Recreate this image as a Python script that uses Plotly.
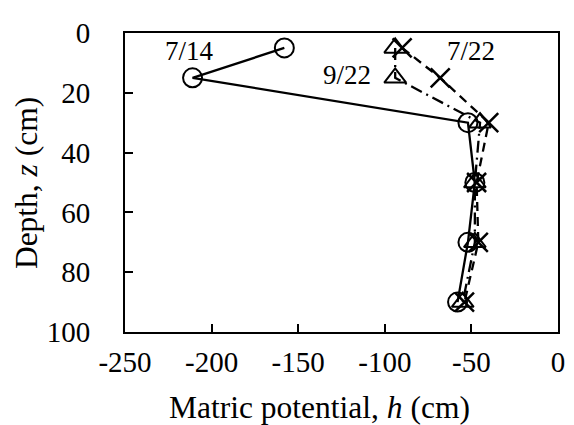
import plotly.graph_objects as go

depth = [5, 15, 30, 50, 70, 90]
h_0714 = [-158, -211, -52, -48, -52, -58]
h_0722 = [-90, -68, -40, -47, -46, -54]
h_0922 = [-94, -94, -45, -48, -48, -55]

x_ticks = [-250, -200, -150, -100, -50, 0]
y_ticks = [0, 20, 40, 60, 80, 100]

labels = ["7/14", "7/22", "9/22"]
label_x = [-213, -50, -122]
label_y = [6, 6, 14]

FONT = "Liberation Serif"
FS_TICK = 29
FS_TITLE = 31.5
FS_ANN = 27

fig = go.Figure()
fig.add_trace(go.Scatter(x=h_0714, y=depth, mode="lines+markers",
                         line=dict(color="black", width=2.3),
                         marker=dict(symbol="circle-open", size=19, color="black",
                                     line=dict(width=2)), name="7/14"))
fig.add_trace(go.Scatter(x=h_0722, y=depth, mode="lines+markers",
                         line=dict(color="black", width=2.3, dash="9px,6px"),
                         marker=dict(symbol="x-thin-open", size=19, color="black",
                                     line=dict(width=2.5)), name="7/22"))
fig.add_trace(go.Scatter(x=h_0922, y=depth, mode="lines+markers",
                         line=dict(color="black", width=2.3, dash="12px,5px,2px,5px"),
                         marker=dict(symbol="triangle-up-open", size=19, color="black",
                                     line=dict(width=2)), name="9/22"))

for t, x, y in zip(labels, label_x, label_y):
    fig.add_annotation(x=x, y=y, text=t, showarrow=False,
                       font=dict(family=FONT, size=FS_ANN, color="black"))

# axis titles as annotations (x title sits slightly left of centre, as in the original)
fig.add_annotation(xref="paper", yref="paper", x=0.45, y=-0.252,
                   xanchor="center", yanchor="middle", showarrow=False,
                   text="Matric potential, <i>h</i> (cm)",
                   font=dict(family=FONT, size=FS_TITLE, color="black"))
fig.add_annotation(xref="paper", yref="paper", x=-0.2286, y=0.498,
                   xanchor="center", yanchor="middle", showarrow=False,
                   textangle=-90,
                   text="Depth, <i>z</i> (cm)",
                   font=dict(family=FONT, size=FS_TITLE, color="black"))

# the page body adds an 8px margin, so the figure is sized to fit the window
fig.update_layout(
    width=566, height=417,
    margin=dict(l=117, r=9, t=17, b=93),
    paper_bgcolor="white", plot_bgcolor="white",
    showlegend=False,
    font=dict(family=FONT, size=FS_TICK, color="black"),
)
fig.update_xaxes(range=[-250, 0], tickvals=x_ticks, ticktext=[str(v) for v in x_ticks],
                 ticks="inside", ticklen=8,
                 tickwidth=2, tickcolor="black", showline=True, linecolor="black",
                 linewidth=2, mirror=True, showgrid=False, zeroline=False,
                 ticklabelstandoff=3, tickfont=dict(family=FONT, size=FS_TICK))
fig.update_yaxes(range=[100, 0], tickvals=y_ticks, ticktext=[str(v) for v in y_ticks],
                 ticks="inside", ticklen=8,
                 tickwidth=2, tickcolor="black", showline=True, linecolor="black",
                 linewidth=2, mirror=True, showgrid=False, zeroline=False,
                 ticklabelstandoff=27, tickfont=dict(family=FONT, size=FS_TICK))

fig.write_html("out.html")
